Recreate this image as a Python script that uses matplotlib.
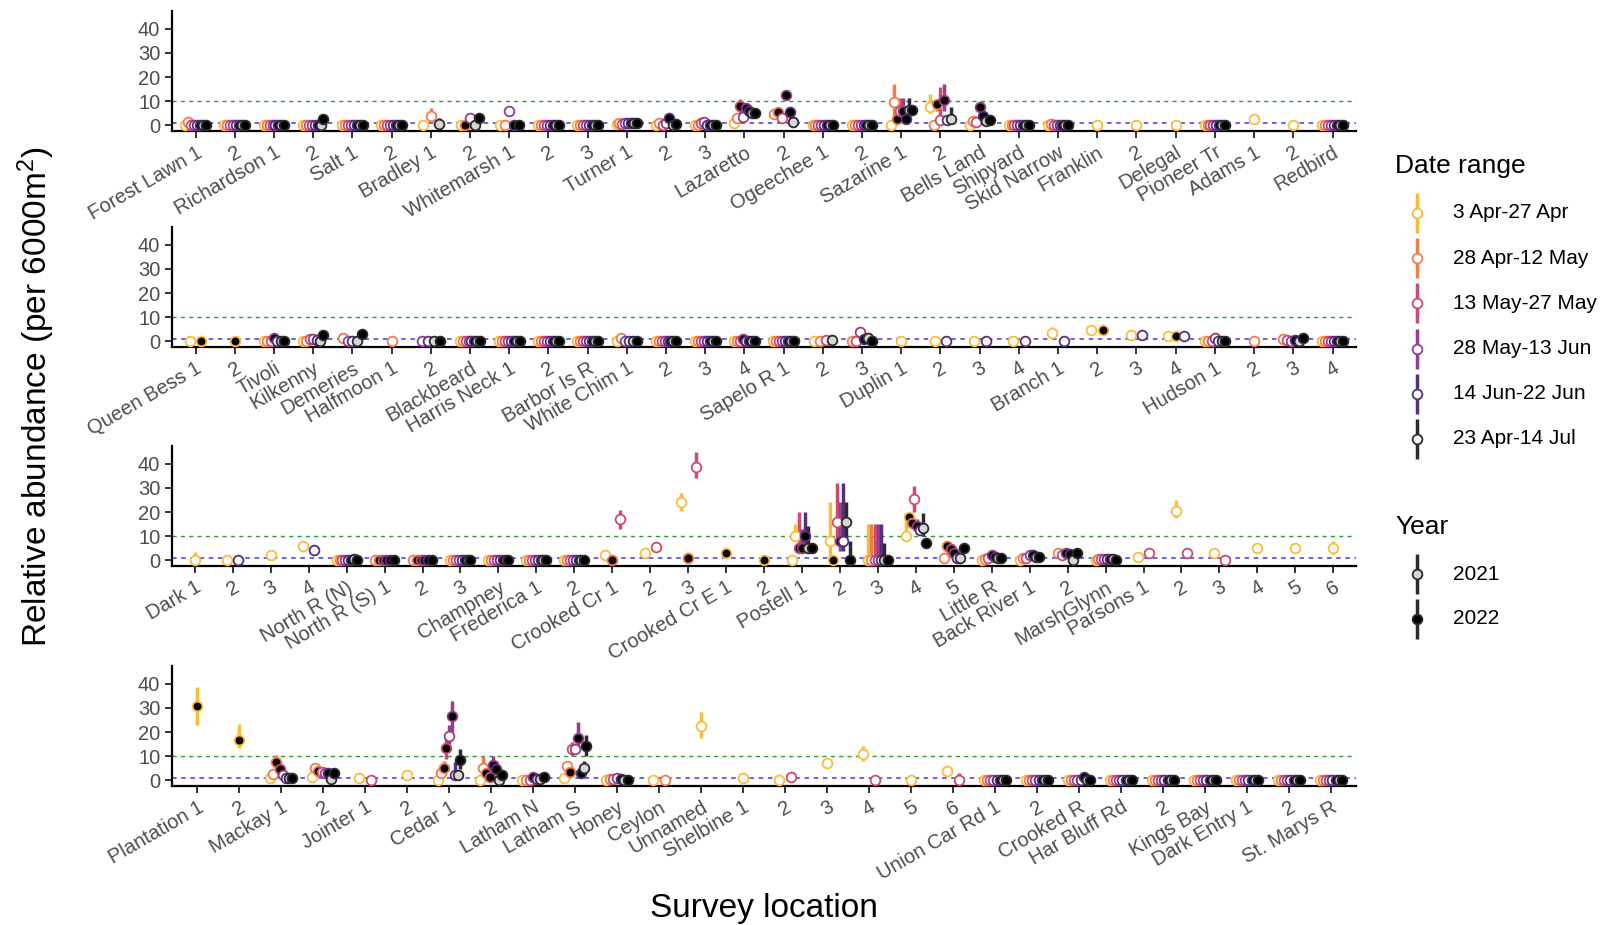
import matplotlib.pyplot as plt

plt.rcParams['font.family'] = ['Liberation Sans', 'DejaVu Sans']
plt.rcParams['mathtext.default'] = 'regular'

# date ranges (code -> label, colour)
date_codes = ['y', 'o', 'r', 'p', 'v', 'k']
date_labels = ['3 Apr-27 Apr', '28 Apr-12 May', '13 May-27 May',
               '28 May-13 Jun', '14 Jun-22 Jun', '23 Apr-14 Jul']
date_colors = ['#FBBC3A', '#F17C4C', '#CD4B6F', '#983C8D', '#55307F', '#2B2B2B']
years = ['2021', '2022']

# each point: "<date><year>:mean[:lo:hi]"  (year 1 = 2021, 2 = 2022)
Z = 'y1:0 o1:0 r1:0 p1:0 v1:0 v2:0 k1:0 k2:0'

p1_sites = ['Forest Lawn 1', '2', 'Richardson 1', '2', 'Salt 1', '2', 'Bradley 1', '2',
            'Whitemarsh 1', '2', '3', 'Turner 1', '2', '3', 'Lazaretto', '2', 'Ogeechee 1', '2',
            'Sazarine 1', '2', 'Bells Land', 'Shipyard', 'Skid Narrow', 'Franklin', '2',
            'Delegal', 'Pioneer Tr', 'Adams 1', '2', 'Redbird']
p1_points = [
    'y1:0 o1:1.5 r1:0 p1:0 v1:0 v2:0 k1:0 k2:0',
    Z, Z,
    'y1:0 o1:0 r1:0 p1:0 v1:0 v2:0 k1:0 k2:2.5',
    Z, Z,
    'y1:0 o1:4:2:7 k1:0.3:0:3',
    'y1:0:0:2 o2:0 p1:3:2:4.5 k1:0 k2:3:2:4.5',
    'y1:0 o1:0 p1:6 v2:0 k2:0',
    Z, Z,
    'y1:0.5 o1:0.8 r1:0.5 p1:1 v1:1 v2:1 k1:0.8 k2:1',
    'y1:0 o1:1 r1:0 p1:1 v2:3:2:4 k1:0 k2:0.5',
    'y1:0 o1:0 r1:1 p1:1.5 v1:0 v2:0 k1:0 k2:0',
    'y1:1 o1:3 r2:8:5:11 p1:3.5 p2:7:5:9 v2:6 k1:5 k2:5',
    'o1:4.8 o2:5.6 r1:3 p2:12.6:11:14 v2:5.6 k1:1.3',
    Z, Z,
    'y1:0 o1:9.5:4:17.3 o2:2.7 r1:6:3:11.4 p2:6:3:11.4 v2:2.7 k1:6.3:3:11.4 k2:6.3',
    'y1:7.5:5:13 o1:0 o2:8.6:6:11 r1:2:1:16 p2:10.5:6:17 v1:2 k1:2.7:1:7.5',
    'y1:0 o1:1.7 r1:1.5 p2:7.5:6:9 v2:4 k1:1.7 k2:2',
    Z,
    'y1:0 o1:0.5 r1:0 p1:0 v1:0 v2:0 k1:0 k2:0',
    'y1:0', 'y1:0', 'y1:0',
    Z,
    'y1:2.5', 'y1:0',
    Z,
]

p2_sites = ['Queen Bess 1', '2', 'Tivoli', 'Kilkenny', 'Demeries', 'Halfmoon 1', '2',
            'Blackbeard', 'Harris Neck 1', '2', 'Barbor Is R', 'White Chim 1', '2', '3', '4',
            'Sapelo R 1', '2', '3', 'Duplin 1', '2', '3', '4', 'Branch 1', '2', '3', '4',
            'Hudson 1', '2', '3', '4']
p2_points = [
    'y1:0 y2:0',
    'y2:0',
    'y1:0 o1:0 r1:0 p2:1.5 v1:0 k1:0 k2:0',
    'y1:0 o1:0 r1:1 p1:1 v1:0.5 k1:0 k2:2.5',
    'o1:1.5 p1:0 v1:0 k1:0 k2:3',
    'o1:0',
    'p1:0 v1:0 k1:0 k2:0',
    Z, Z, Z, Z,
    'y1:0 o1:1.5 p1:0 v1:0 k1:0 k2:0',
    Z, Z,
    'y1:0 o1:0 r1:0 p2:1 v1:0 v2:0 k1:0 k2:0',
    Z,
    'y1:0 o1:0 r1:0.5 k1:0.5',
    'o1:0 r1:0 p1:4:3:5 v2:1 k1:1.5 k2:0',
    'y1:0', 'y1:0 v1:0', 'y1:0 v1:0', 'y1:0 v1:0',
    'y1:3.5:2.5:6 v1:0',
    'y1:4.8 y2:4.8',
    'y1:2.5 v1:2.5',
    'y1:2 y2:2 v1:2',
    'y1:0 o1:0 r1:0 p1:1.5 v1:0 k1:0 k2:0',
    'o1:0',
    'o1:0.8 r1:0.5 p1:0 v2:0.5 k1:0 k2:1.5',
    Z,
]

p3_sites = ['Dark 1', '2', '3', '4', 'North R (N)', 'North R (S) 1', '2', '3', 'Champney',
            'Frederica 1', '2', 'Crooked Cr 1', '2', '3', 'Crooked Cr E 1', '2', 'Postell 1',
            '2', '3', '4', '5', 'Little R', 'Back River 1', '2', 'MarshGlynn', 'Parsons 1',
            '2', '3', '4', '5', '6']
p3_points = [
    'y1:0:0:3.5',
    'y1:0 v1:0',
    'y1:2',
    'y1:5.8 v1:4.4',
    'y1:0 o1:0 r1:0 p1:0 v1:0 v2:0 k1:0.5 k2:0',
    'o1:0 o2:0 r2:0 p2:0 v2:0 k2:0',
    'o1:0 o2:0 r2:0 p2:0 v2:0 k2:0',
    Z, Z, Z, Z,
    'y1:2 o2:0 r1:17:13:21',
    'y1:3.2 r1:5.5',
    'y1:24:20.5:28 o2:1 r1:38.5:34:45',
    'y2:3:2:4',
    'y2:0',
    'y1:0 y1:10:8:15 r2:5:4:20 p2:5:4:13 v2:10:5:20 k1:5:4:14 k2:5',
    'y1:8:0:24 y2:0 r1:16:8:32 p2:8:4:24 v1:8:4:32 k1:16:8:24 k2:0:0:8',
    'y1:0:0:15 o1:0:0:15 r1:0:0:15 p1:0:0:15 v1:0:0:15 k1:0:0:7 k2:0',
    'y1:10:8:19 y2:18 o2:15.5 r1:25.5:20:31 p2:14:11:17 v1:12.5 k1:13.5:10:19.5 k2:7.3:5:9',
    'o1:1 o2:6 r2:4.5 p2:3 v1:1 k1:0.8 k2:5',
    'y1:0 o1:0.5 r1:1 p2:2 v2:1.5 k1:1 k2:1',
    'y1:0 o1:1:0:3 r1:1 p1:2:1:3 v2:2 k1:1.5 k2:1.5',
    'o1:3:2:4 r1:2 p2:3:2:4 v2:2.5 k1:0 k2:3',
    'y1:0 o1:0.5 r1:0.5 p1:0.5 v1:0.5 v2:0.5 k1:0.5 k2:0',
    'y1:1.4 r1:2.9',
    'y1:20.6:17.7:25 r1:2.9',
    'y1:3 r1:0:0:2',
    'y1:5',
    'y1:5',
    'y1:5:2.5:8',
]

p4_sites = ['Plantation 1', '2', 'Mackay 1', '2', 'Jointer 1', '2', 'Cedar 1', '2', 'Latham N',
            'Latham S', 'Honey', 'Ceylon', 'Unnamed', 'Shelbine 1', '2', '3', '4', '5', '6',
            'Union Car Rd 1', '2', 'Crooked R', 'Har Bluff Rd', '2', 'Kings Bay',
            'Dark Entry 1', '2', 'St. Marys R']
p4_points = [
    'y2:30.7:23:38.5',
    'y2:16.8:13.5:23.3',
    'y1:1 o1:2.5 o2:7.5:5:10.5 r2:4.5:3:6 p1:2 v1:1 k1:1 k2:1',
    'y1:1.5 o1:5 o2:4 r1:3.5 p1:3 v2:3 k1:0.5 k2:3',
    'y1:1 r1:0',
    'y1:2',
    'y1:0 o1:3 o2:5:3:8 r2:13.5:9:18 p1:18.5:15:23 p2:26.5:20:33 v1:2:1:7.5 k1:2 k2:8.5:4.5:13',
    'y1:0 o1:5:3:10 o2:3 r2:1.5 p2:6.5:4:10 v2:4.5:3:8 k1:0 k2:2',
    'y1:0 o1:0 r1:0 p2:1.5 v1:0.5 k1:0.5 k2:1.5',
    'y1:1 o1:6 o2:3.5 r1:13:10:16 p1:13 p2:17.5:13:24 v2:3 k1:5:3:8 k2:14:10:18.7',
    'y1:0 o1:0.5 r1:0.5 p1:1 v2:0.5 k1:0 k2:0',
    'y1:0 o1:0',
    'y1:22.5:17.5:28.5',
    'y1:1',
    'y1:0 r1:1.5',
    'y1:7.2',
    'y1:11:8:14 r1:0',
    'y1:0:0:1.5',
    'y1:3.7 r1:0:0:3',
    Z, Z,
    'y1:0 o1:0 r1:0 p1:0 v1:0 v2:1.5 k1:0 k2:0',
    Z, Z, Z, Z, Z, Z,
]

panels = [(p1_sites, p1_points), (p2_sites, p2_points),
          (p3_sites, p3_points), (p4_sites, p4_points)]

DODGE = 0.6
GREY_TXT = '#4D4D4D'


def fill_for(code, year):
    if year == '2':
        return 'black'
    return '#D6D6D6' if code == 'k' else 'white'


fig = plt.figure(figsize=(16.08, 9.25), dpi=100)
bottoms = [0.8584, 0.6249, 0.3881, 0.1503]

for (sites, points), b in zip(panels, bottoms):
    ax = fig.add_axes([0.107, b, 0.7363, 0.1297])
    for i, s in enumerate(points):
        toks = s.split()
        n = len(toks)
        for j, tok in enumerate(toks):
            parts = tok.split(':')
            code, yr = parts[0][0], parts[0][1]
            vals = [float(v) for v in parts[1:]]
            col = date_colors[date_codes.index(code)]
            x = i + (j - (n - 1) / 2) * DODGE / n
            if len(vals) == 3:
                ax.plot([x, x], [vals[1], vals[2]], color=col, lw=2.5,
                        solid_capstyle='butt', zorder=2)
            ax.plot(x, vals[0], 'o', ms=7, mew=1.3, mec=col,
                    mfc=fill_for(code, yr), zorder=3)
    ax.axhline(10, color='#2E9B2E', ls=(0, (3, 3)), lw=1, zorder=1)
    ax.axhline(1, color='#3B3BF2', ls=(0, (3, 3)), lw=1.1, zorder=1)
    ax.set_xlim(-0.6, len(sites) - 1 + 0.6)
    ax.set_ylim(-2.4, 47.4)
    ax.set_yticks([0, 10, 20, 30, 40])
    ax.set_xticks(range(len(sites)))
    ax.set_xticklabels(sites, rotation=30, ha='right', va='top',
                       rotation_mode='anchor')
    ax.tick_params(labelsize=14.5, labelcolor=GREY_TXT, color='#333333',
                   length=5, width=1.4, direction='out')
    for sp in ['top', 'right']:
        ax.spines[sp].set_visible(False)
    for sp in ['left', 'bottom']:
        ax.spines[sp].set_linewidth(1.6)

fig.text(0.0224, 0.571, r'Relative abundance (per 6000m$^{2}$)', rotation=90,
         ha='center', va='center', fontsize=24)
fig.text(0.475, 0.018, 'Survey location', ha='center', va='center', fontsize=24)

# legends drawn in pixel coordinates
lg = fig.add_axes([0, 0, 1, 1], facecolor='none')
lg.set_xlim(0, 1608)
lg.set_ylim(925, 0)
lg.axis('off')

lg.text(1395, 166, 'Date range', fontsize=19, va='center', ha='left')
for k, (lab, col) in enumerate(zip(date_labels, date_colors)):
    yk = 213 + k * 45.2
    lg.plot([1417, 1417], [yk - 20, yk + 20], color=col, lw=2.5, solid_capstyle='butt')
    lg.plot(1417, yk, 'o', ms=7, mew=1.3, mec=col, mfc='white')
    lg.text(1453, yk, lab, fontsize=15, va='center', ha='left')

lg.text(1395, 527, 'Year', fontsize=19, va='center', ha='left')
for k, yr in enumerate(years):
    yk = 574 + k * 45
    lg.plot([1417, 1417], [yk - 20, yk + 20], color='#2B2B2B', lw=2.5,
            solid_capstyle='butt')
    lg.plot(1417, yk, 'o', ms=7, mew=1.3, mec='#2B2B2B',
            mfc='#D6D6D6' if yr == '2021' else 'black')
    lg.text(1453, yk, yr, fontsize=15, va='center', ha='left')

fig.savefig('out.png', dpi=100)
